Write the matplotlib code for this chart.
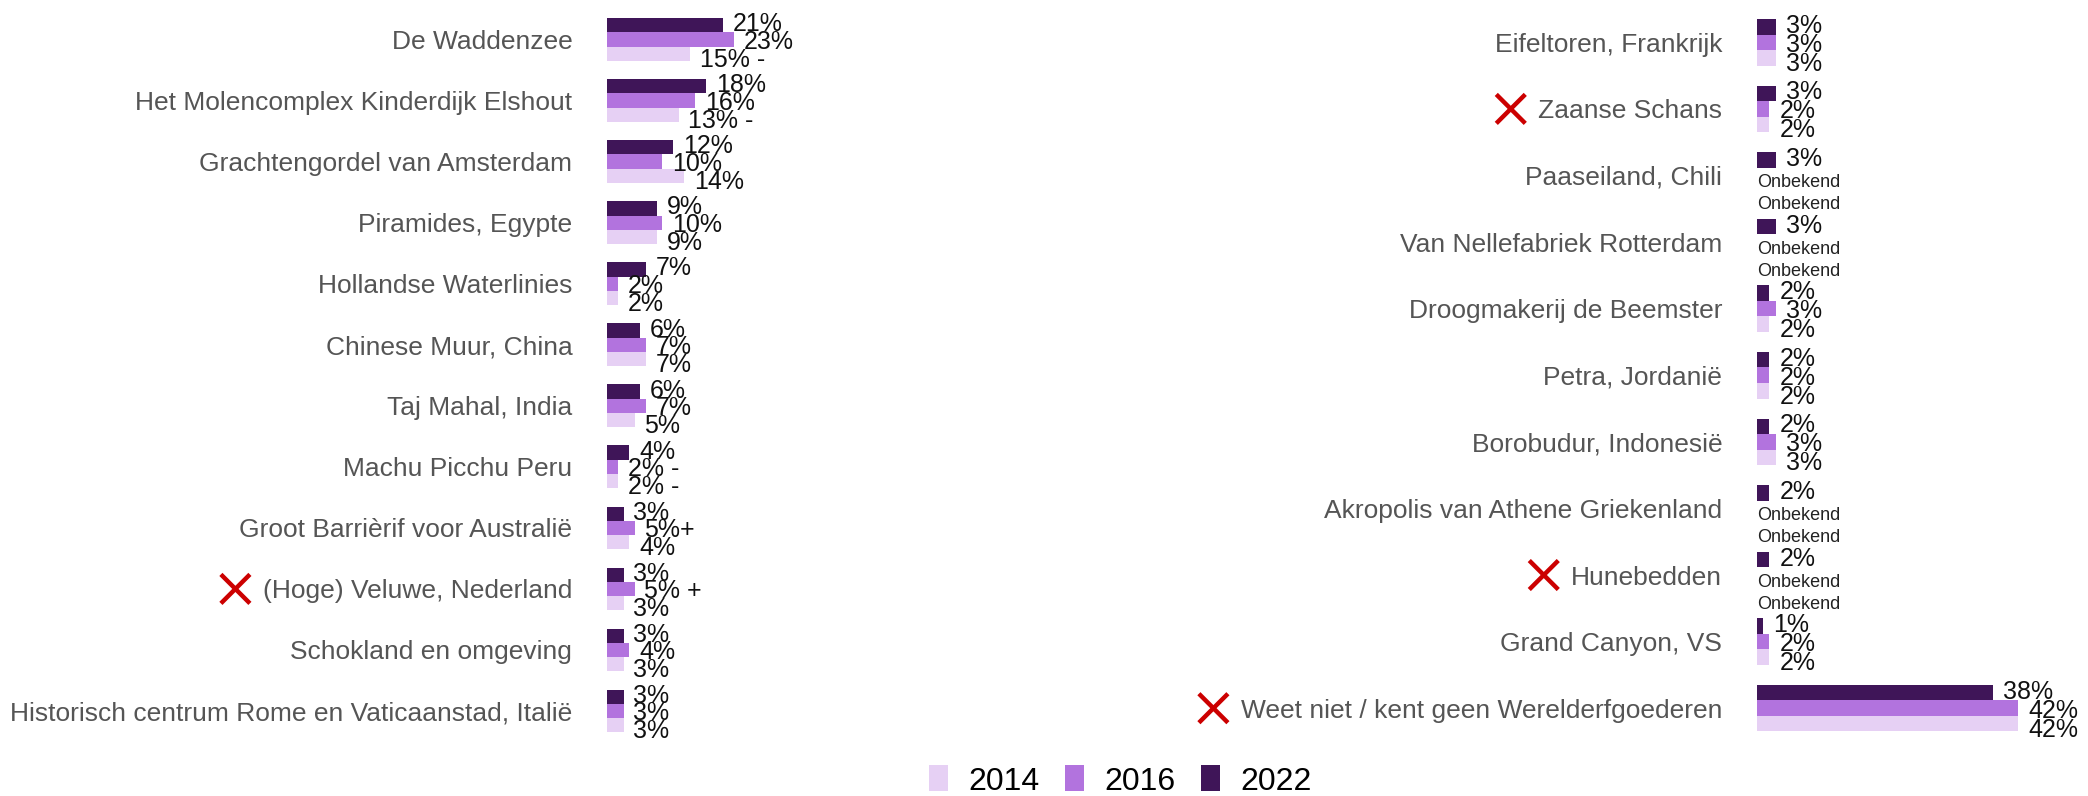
import matplotlib
matplotlib.use("Agg")
import matplotlib.pyplot as plt
from matplotlib.lines import Line2D
from matplotlib.patches import Patch

plt.rcParams["font.family"] = ["Liberation Sans", "DejaVu Sans"]

# left panel, top to bottom
left_names = [
    "De Waddenzee",
    "Het Molencomplex Kinderdijk Elshout",
    "Grachtengordel van Amsterdam",
    "Piramides, Egypte",
    "Hollandse Waterlinies",
    "Chinese Muur, China",
    "Taj Mahal, India",
    "Machu Picchu Peru",
    "Groot Barrièrif voor Australië",
    "(Hoge) Veluwe, Nederland",
    "Schokland en omgeving",
    "Historisch centrum Rome en Vaticaanstad, Italië",
]
left_2022 = [21, 18, 12, 9, 7, 6, 6, 4, 3, 3, 3, 3]
left_2016 = [23, 16, 10, 10, 2, 7, 7, 2, 5, 5, 4, 3]
left_2014 = [15, 13, 14, 9, 2, 7, 5, 2, 4, 3, 3, 3]
left_note_2016 = ["", "", "", "", "", "", "", " -", "+", " +", "", ""]
left_note_2014 = [" -", " -", "", "", "", "", "", " -", "", "", "", ""]
left_marked = [9]

# right panel, top to bottom (None = onbekend)
right_names = [
    "Eifeltoren, Frankrijk",
    "Zaanse Schans",
    "Paaseiland, Chili",
    "Van Nellefabriek Rotterdam",
    "Droogmakerij de Beemster",
    "Petra, Jordanië",
    "Borobudur, Indonesië",
    "Akropolis van Athene Griekenland",
    "Hunebedden",
    "Grand Canyon, VS",
    "Weet niet / kent geen Werelderfgoederen",
]
right_2022 = [3, 3, 3, 3, 2, 2, 2, 2, 2, 1, 38]
right_2016 = [3, 2, None, None, 3, 2, 3, None, None, 2, 42]
right_2014 = [3, 2, None, None, 2, 2, 3, None, None, 2, 42]
right_marked = [1, 8, 10]

years = ["2014", "2016", "2022"]
colors = {"2014": "#e6d0f4", "2016": "#b273de", "2022": "#3f1558"}

W, H = 2088, 796
fig = plt.figure(figsize=(W / 100, H / 100), dpi=100)

bottom = 1 - 741.5 / H
height = (741.5 - 9) / H
ax_l = fig.add_axes([607 / W, bottom, 165 / W, height])
ax_r = fig.add_axes([1757 / W, bottom, 310.7 / W, height])

bh = 0.233


def draw_panel(ax, names, v22, v16, v14, n16, n14, xmax):
    n = len(names)
    rows = list(range(n))
    series = [("2022", v22, [""] * n, -bh, -1), ("2016", v16, n16, 0, 2.5), ("2014", v14, n14, bh, 6)]
    for year, vals, notes, off, dy in series:
        for i, v in enumerate(vals):
            y = rows[i] + off
            if v is None:
                ax.annotate("Onbekend", (0, y), xytext=(0, -(dy * 2 + 2)), textcoords="offset pixels",
                            ha="left", va="center", fontsize=13, color="#222222")
                continue
            ax.barh(y, v, height=bh, color=colors[year], linewidth=0)
            ax.annotate(f"{v}%{notes[i]}", (v, y), xytext=(10, -dy), textcoords="offset pixels",
                        ha="left", va="center", fontsize=18, color="#111111")
    ax.set_xlim(0, xmax)
    ax.set_ylim(n - 0.5, -0.5)
    ax.set_yticks(rows)
    ax.set_yticklabels(names, fontsize=19, color="#555555")
    ax.tick_params(axis="y", length=0, pad=25)
    ax.set_xticks([])
    for s in ax.spines.values():
        s.set_visible(False)


draw_panel(ax_l, left_names, left_2022, left_2016, left_2014, left_note_2016, left_note_2014, 30)
draw_panel(ax_r, right_names, right_2022, right_2016, right_2014, [""] * 11, [""] * 11, 50)

handles = [Patch(facecolor=colors[y], edgecolor="none") for y in years]
fig.legend(handles, years, loc="center", bbox_to_anchor=(1120.5 / W, 1 - 781 / H), ncol=3,
           frameon=False, fontsize=23, handlelength=0.6, handleheight=0.875,
           handletextpad=0.65, columnspacing=0.78, borderpad=0, borderaxespad=0)

# red crosses in front of some labels
fig.canvas.draw()
inv = fig.transFigure.inverted()
for ax, marked in [(ax_l, left_marked), (ax_r, right_marked)]:
    labels = ax.get_yticklabels()
    for i in marked:
        bb = labels[i].get_window_extent()
        yc = ax.transData.transform((0, i))[1]
        x1 = bb.x0 - 13
        x0 = x1 - 29
        for ya, yb in [(yc - 14.5, yc + 14.5), (yc + 14.5, yc - 14.5)]:
            p0 = inv.transform((x0, ya))
            p1 = inv.transform((x1, yb))
            fig.add_artist(Line2D([p0[0], p1[0]], [p0[1], p1[1]], transform=fig.transFigure,
                                  color="#cc0000", linewidth=3.2, solid_capstyle="butt"))

fig.savefig("out.png", dpi=100)
